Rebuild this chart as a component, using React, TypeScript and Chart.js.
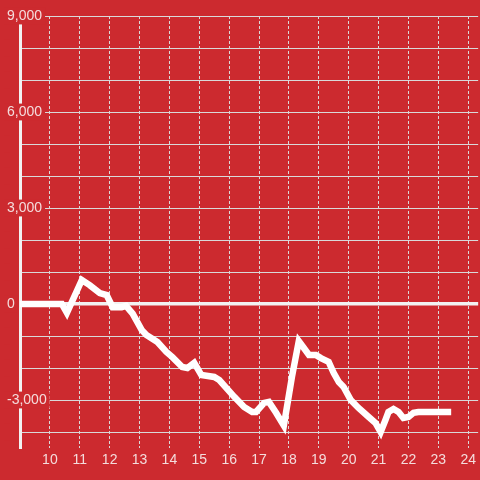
import React, { useEffect, useRef } from "react";
import { Chart, registerables } from "chart.js";

Chart.register(...registerables);

const xValues = [9, 10.4, 10.57, 11.07, 11.33, 11.67, 11.9, 12.1, 12.4, 12.55, 12.77, 13.07, 13.23, 13.6, 13.9, 14.1, 14.43, 14.6, 14.83, 15.07, 15.5, 15.67, 16.17, 16.5, 16.77, 16.9, 17.17, 17.33, 17.57, 17.83, 18.1, 18.33, 18.5, 18.67, 18.9, 19.07, 19.33, 19.5, 19.67, 19.83, 20.07, 20.33, 20.67, 20.9, 21.07, 21.23, 21.33, 21.5, 21.67, 21.83, 22.0, 22.17, 22.33, 23.43];
const yValues = [0, 0, -280, 750, 590, 340, 280, -100, -100, -60, -300, -810, -970, -1190, -1500, -1660, -1970, -2000, -1840, -2220, -2280, -2375, -2900, -3220, -3375, -3375, -3090, -3060, -3400, -3800, -2280, -1160, -1375, -1590, -1590, -1690, -1810, -2160, -2440, -2590, -3000, -3250, -3530, -3720, -4000, -3625, -3375, -3280, -3375, -3560, -3530, -3400, -3375, -3375];

const xTicks = [10, 11, 12, 13, 14, 15, 16, 17, 18, 19, 20, 21, 22, 23, 24];
const yTicks = [-4000, -3000, -2000, -1000, 0, 1000, 2000, 3000, 4000, 5000, 6000, 7000, 8000, 9000];
const yLabelled = [-3000, 0, 3000, 6000, 9000];

const X_MIN = 9;
const X_MAX = 24.333;
const Y_MIN = -4500;
const Y_MAX = 9000;

const RED = "#cc2a2f";
const GRID = "#d9d9d9";
const LABEL = "#f4dcdc";
const FONT = { family: "'Liberation Sans', Arial, sans-serif", size: 14 };

export default function App() {
  const ref = useRef<HTMLCanvasElement | null>(null);

  useEffect(() => {
    if (!ref.current) return;
    const chart = new Chart(ref.current, {
      type: "line",
      data: {
        datasets: [
          {
            data: xValues.map((x, i) => ({ x, y: yValues[i] })),
            borderColor: "#ffffff",
            borderWidth: 6.5,
            pointRadius: 0,
            tension: 0,
            fill: false,
          },
        ],
      },
      options: {
        animation: false,
        responsive: true,
        maintainAspectRatio: false,
        layout: { padding: { left: 7, top: 16, right: 0, bottom: 0 } },
        plugins: { legend: { display: false }, tooltip: { enabled: false } },
        scales: {
          x: {
            type: "linear",
            min: X_MIN,
            max: X_MAX,
            afterBuildTicks: (s: any) => {
              s.ticks = xTicks.map((v) => ({ value: v }));
            },
            afterFit: (s: any) => {
              s.height = 32;
            },
            grid: { color: GRID, lineWidth: 1, drawTicks: false },
            border: { display: false, dash: [3, 2] },
            ticks: {
              color: LABEL,
              font: FONT,
              padding: 4,
              maxRotation: 0,
              autoSkip: false,
              callback: (v: any) => String(v),
            },
          },
          y: {
            type: "linear",
            min: Y_MIN,
            max: Y_MAX,
            afterBuildTicks: (s: any) => {
              s.ticks = yTicks.map((v) => ({ value: v }));
            },
            afterFit: (s: any) => {
              s.width = 13;
            },
            grid: {
              drawTicks: false,
              color: (ctx: any) => (ctx.tick && ctx.tick.value === 0 ? "#f2f2f2" : GRID),
              lineWidth: (ctx: any) => (ctx.tick && ctx.tick.value === 0 ? 3.5 : 1),
            },
            border: { display: true, color: "#f2f2f2", width: 3 },
            ticks: {
              color: LABEL,
              font: FONT,
              mirror: true,
              padding: -13,
              crossAlign: "near",
              autoSkip: false,
              showLabelBackdrop: true,
              backdropColor: RED,
              backdropPadding: { top: 0, bottom: 0, left: 3, right: 3 },
              callback: (v: any) =>
                yLabelled.includes(v) ? Number(v).toLocaleString("en-US") : "",
            },
          },
        },
      } as any,
    });
    return () => chart.destroy();
  }, []);

  return (
    <div
      style={{
        position: "fixed",
        left: 0,
        top: 0,
        width: 480,
        height: 480,
        background: RED,
      }}
    >
      <canvas ref={ref} />
    </div>
  );
}
